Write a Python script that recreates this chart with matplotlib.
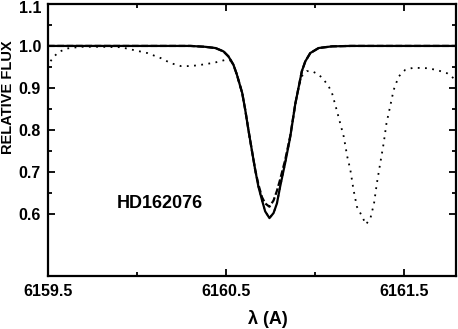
import numpy as np
import matplotlib.pyplot as plt
from matplotlib.ticker import FixedLocator
from matplotlib.transforms import ScaledTranslation

# synthetic profile (solid) and second fit (dashed)
syn_wl = [6159.50, 6160.30, 6160.38, 6160.44, 6160.485, 6160.513, 6160.541, 6160.560,
          6160.579, 6160.590, 6160.607, 6160.625, 6160.644, 6160.663, 6160.681, 6160.701,
          6160.719, 6160.743, 6160.766, 6160.785, 6160.803, 6160.831, 6160.860, 6160.888,
          6160.906, 6160.925, 6160.944, 6160.972, 6161.019, 6161.094, 6161.20, 6161.79]
syn_fx = [1.000, 1.000, 0.998, 0.995, 0.987, 0.975, 0.955, 0.932,
          0.904, 0.888, 0.848, 0.800, 0.752, 0.705, 0.665, 0.633,
          0.606, 0.590, 0.602, 0.625, 0.665, 0.721, 0.784, 0.862,
          0.900, 0.940, 0.963, 0.983, 0.995, 0.999, 1.000, 1.000]
syn2_fx = [1.000, 1.000, 0.998, 0.995, 0.987, 0.975, 0.955, 0.932,
           0.904, 0.888, 0.848, 0.800, 0.752, 0.705, 0.670, 0.640,
           0.625, 0.617, 0.632, 0.655, 0.682, 0.728, 0.786, 0.862,
           0.900, 0.940, 0.963, 0.983, 0.995, 0.999, 1.000, 1.000]

# observed spectrum (dotted)
obs_wl = [6159.500, 6159.506, 6159.534, 6159.562, 6159.608, 6159.684, 6159.796, 6159.908,
          6159.983, 6160.058, 6160.133, 6160.189, 6160.246, 6160.302, 6160.358, 6160.433,
          6160.498, 6160.526, 6160.541, 6160.560, 6160.579, 6160.590, 6160.607, 6160.625,
          6160.644, 6160.663, 6160.681, 6160.701, 6160.719, 6160.743, 6160.766, 6160.785,
          6160.803, 6160.831, 6160.860, 6160.888, 6160.906, 6160.925, 6160.953, 6160.981,
          6161.019, 6161.047, 6161.075, 6161.094, 6161.120, 6161.140, 6161.160, 6161.180,
          6161.197, 6161.215, 6161.234, 6161.253, 6161.285, 6161.310, 6161.330, 6161.346,
          6161.365, 6161.384, 6161.400, 6161.420, 6161.440, 6161.468, 6161.505, 6161.550,
          6161.627, 6161.680, 6161.740, 6161.777, 6161.790]
obs_fx = [0.948, 0.959, 0.975, 0.986, 0.994, 0.998, 0.998, 0.997,
          0.990, 0.983, 0.971, 0.959, 0.952, 0.952, 0.955, 0.960,
          0.967, 0.965, 0.955, 0.932, 0.904, 0.888, 0.848, 0.800,
          0.752, 0.705, 0.665, 0.633, 0.606, 0.590, 0.602, 0.625,
          0.665, 0.721, 0.784, 0.862, 0.900, 0.928, 0.940, 0.940,
          0.932, 0.920, 0.904, 0.888, 0.848, 0.816, 0.784, 0.736,
          0.705, 0.657, 0.617, 0.602, 0.575, 0.590, 0.625, 0.673,
          0.721, 0.768, 0.816, 0.855, 0.895, 0.927, 0.943, 0.948,
          0.947, 0.943, 0.935, 0.923, 0.918]

plt.rcParams['font.family'] = ['Liberation Sans', 'DejaVu Sans']
plt.rcParams['font.weight'] = 'bold'

fig = plt.figure(figsize=(4.58, 3.29), dpi=100)
ax = fig.add_axes([0.1048, 0.161, 0.8908, 0.827])

ax.plot(obs_wl, obs_fx, color='black', lw=1.3, linestyle=(0, (1, 3)))
ax.plot(syn_wl, syn_fx, color='black', lw=1.6)
ax.plot(syn_wl, syn2_fx, color='black', lw=1.6, linestyle=(0, (3, 1.2)))

ax.set_xlim(6159.5, 6161.79)
ax.set_ylim(0.452, 1.1)
ax.xaxis.set_major_locator(FixedLocator([6159.5, 6160.5, 6161.5]))
ax.xaxis.set_minor_locator(FixedLocator([6160.0, 6161.0]))
ax.yaxis.set_major_locator(FixedLocator([0.6, 0.7, 0.8, 0.9, 1.0, 1.1]))
ax.yaxis.set_minor_locator(FixedLocator([0.65, 0.75, 0.85, 0.95, 1.05]))
ax.xaxis.set_major_formatter(plt.FuncFormatter(lambda v, p: '%.1f' % v))
ax.yaxis.set_major_formatter(plt.FuncFormatter(lambda v, p: '%.1f' % v))

ax.tick_params(which='both', direction='in', top=True, right=True, width=1.3)
ax.tick_params(which='major', length=5, labelsize=11.5)
ax.tick_params(axis='x', which='major', pad=6)
ax.tick_params(axis='y', which='major', pad=5)
ax.tick_params(which='minor', length=3)
for s in ax.spines.values():
    s.set_linewidth(1.6)

# keep the top "1.1" inside the figure
top_lbl = ax.get_yticklabels()[-1]
top_lbl.set_transform(top_lbl.get_transform() + ScaledTranslation(0, -3 / 100, fig.dpi_scale_trans))

ax.set_ylabel('RELATIVE FLUX', fontsize=10.5, fontweight='bold')
ax.yaxis.set_label_coords(-0.08, 0.658)
ax.set_xlabel('λ (A)', fontsize=13, fontweight='bold')
ax.xaxis.set_label_coords(0.539, -0.125)
ax.text(6159.888, 0.614, 'HD162076', fontsize=13, fontweight='bold')

plt.savefig('out.png', dpi=100)
